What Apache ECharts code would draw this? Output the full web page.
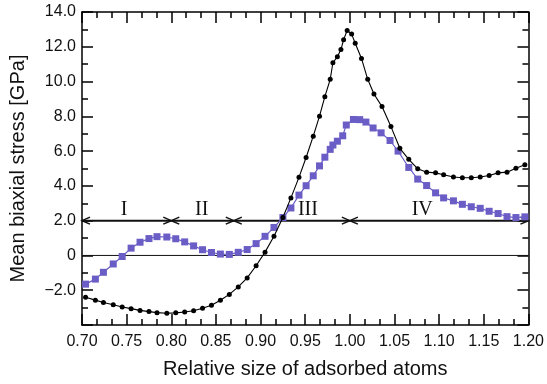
<!DOCTYPE html>
<html>
<head>
<meta charset="utf-8">
<script src="https://cdn.jsdelivr.net/npm/echarts@6/dist/echarts.min.js"></script>
<style>html,body{margin:0;padding:0;background:#fff}#c{width:547px;height:384px}</style>
</head>
<body>
<div id="c"></div>
<script>
// Black series (circles): [relative size, stress]
var blackX = [0.704,0.715,0.724,0.735,0.745,0.755,0.765,0.775,0.784,0.795,0.805,0.815,0.825,0.835,0.845,0.855,0.865,0.875,0.885,0.895,0.905,0.915,0.925,0.934,0.943,0.951,0.959,0.966,0.972,0.978,0.981,0.986,0.990,0.993,0.997,1.002,1.006,1.013,1.020,1.027,1.036,1.046,1.056,1.066,1.076,1.086,1.096,1.105,1.116,1.126,1.136,1.146,1.156,1.166,1.176,1.186,1.196];
var blackY = [-2.40,-2.57,-2.71,-2.84,-2.96,-3.06,-3.16,-3.23,-3.29,-3.32,-3.30,-3.25,-3.18,-3.04,-2.86,-2.58,-2.24,-1.81,-1.29,-0.59,0.19,1.10,2.18,3.31,4.49,5.63,6.86,8.01,9.13,10.13,11.08,11.42,11.84,12.41,12.94,12.73,12.20,11.33,10.13,9.28,8.56,7.41,6.16,5.53,4.98,4.79,4.75,4.64,4.51,4.47,4.47,4.51,4.60,4.75,4.79,5.02,5.21];
// Purple series (squares)
var purpleX = [0.704,0.715,0.724,0.735,0.745,0.755,0.765,0.775,0.784,0.795,0.805,0.815,0.825,0.835,0.845,0.855,0.865,0.875,0.885,0.895,0.905,0.915,0.925,0.934,0.943,0.951,0.959,0.966,0.972,0.978,0.981,0.986,0.992,0.996,1.004,1.011,1.018,1.026,1.035,1.045,1.054,1.066,1.076,1.086,1.096,1.105,1.116,1.126,1.136,1.146,1.156,1.166,1.176,1.186,1.196];
var purpleY = [-1.65,-1.36,-0.97,-0.49,-0.06,0.42,0.76,0.97,1.08,1.06,0.96,0.78,0.55,0.33,0.17,0.08,0.06,0.18,0.34,0.68,1.10,1.61,2.18,2.73,3.47,4.01,4.58,5.15,5.65,6.10,6.35,6.57,6.88,7.50,7.82,7.81,7.67,7.33,7.05,6.61,6.00,5.06,4.39,4.02,3.60,3.31,3.14,2.94,2.80,2.71,2.54,2.41,2.23,2.18,2.22];
// Region boundaries and labels
var regionBounds = [0.70, 0.80, 0.87, 1.00, 1.20];
var regionLevel = 2.0;
var regionNames = ['I','II','III','IV'];
var regionNameX = [0.747, 0.834, 0.953, 1.081];
var regionNameY = 2.62;
// Axis ticks
var xTicks = [0.70,0.75,0.80,0.85,0.90,0.95,1.00,1.05,1.10,1.15,1.20];
var yTicks = [-4,-2,0,2,4,6,8,10,12,14];

function pairs(xs, ys){ return xs.map(function(x,i){ return [x, ys[i]]; }); }

var chart = echarts.init(document.getElementById('c'), null, {renderer:'canvas'});
var axisCommon = {
  type: 'value',
  axisLine: {show:true, onZero:false, lineStyle:{color:'#000', width:1.5}},
  axisTick: {show:true, inside:true, length:11, lineStyle:{color:'#000', width:1.5}},
  minorTick: {show:true, length:6, lineStyle:{color:'#000', width:1.5}},
  splitLine: {show:false}
};
function xax(pos, labels){
  return Object.assign({}, axisCommon, {
    position: pos, min: xTicks[0], max: xTicks[xTicks.length-1], interval: 0.05,
    minorTick: Object.assign({}, axisCommon.minorTick, {splitNumber:3}),
    axisLabel: {show: labels, fontSize:16, color:'#111', margin:9, fontFamily:'Liberation Sans, Arial, sans-serif',
      formatter: function(v){ return v.toFixed(2); }},
    name: labels ? 'Relative size of adsorbed atoms' : '',
    nameLocation: 'middle', nameGap: 34,
    nameTextStyle: {fontSize:20, color:'#111', fontFamily:'Liberation Sans, Arial, sans-serif'}
  });
}
function yax(pos, labels){
  return Object.assign({}, axisCommon, {
    position: pos, min: yTicks[0], max: yTicks[yTicks.length-1], interval: 2,
    minorTick: Object.assign({}, axisCommon.minorTick, {splitNumber:2}),
    axisLabel: {show: labels, fontSize:16, color:'#111', margin:6, fontFamily:'Liberation Sans, Arial, sans-serif',
      formatter: function(v){
        if (v === yTicks[0]) return '';
        if (v === 0) return '0';
        return (v < 0 ? '\u2212' : '') + Math.abs(v).toFixed(1);
      }},
    name: labels ? 'Mean biaxial stress [GPa]' : '',
    nameLocation: 'middle', nameGap: 54,
    nameTextStyle: {fontSize:20, color:'#111', fontFamily:'Liberation Sans, Arial, sans-serif'}
  });
}

function renderRegions(params, api){
  var children = [];
  var p0 = api.coord([regionBounds[0], regionLevel]);
  var p1 = api.coord([regionBounds[regionBounds.length-1], regionLevel]);
  var st = {stroke:'#111', lineWidth:2, fill:null};
  children.push({type:'line', shape:{x1:p0[0], y1:p0[1], x2:p1[0], y2:p1[1]}, style:st});
  var L = 8, H = 3.5;
  var cs = {stroke:'#111', lineWidth:1.5, fill:null};
  regionBounds.forEach(function(b, i){
    var p = api.coord([b, regionLevel]);
    if (i > 0) {
      children.push({type:'polyline', shape:{points:[[p[0]-L,p[1]-H],[p[0],p[1]],[p[0]-L,p[1]+H]]}, style:cs});
    }
    if (i < regionBounds.length-1) {
      children.push({type:'polyline', shape:{points:[[p[0]+L,p[1]-H],[p[0],p[1]],[p[0]+L,p[1]+H]]}, style:cs});
    }
  });
  regionNames.forEach(function(n, i){
    var p = api.coord([regionNameX[i], regionNameY]);
    children.push({type:'text', x:p[0], y:p[1], style:{text:n, fill:'#111', fontSize:20,
      fontFamily:'Liberation Serif, DejaVu Serif, serif', align:'center', verticalAlign:'middle'}});
  });
  var z0 = api.coord([regionBounds[0], 0]);
  var z1 = api.coord([regionBounds[regionBounds.length-1], 0]);
  children.push({type:'line', shape:{x1:z0[0], y1:z0[1], x2:z1[0], y2:z1[1]}, style:{stroke:'#111', lineWidth:1}});
  return {type:'group', children:children};
}

chart.setOption({
  animation: false,
  backgroundColor: '#fff',
  grid: {left:77, right:18, top:12, bottom:56, containLabel:false},
  xAxis: [xax('bottom', true), xax('top', false)],
  yAxis: [yax('left', true), yax('right', false)],
  series: [
    {type:'custom', renderItem: renderRegions, data:[[regionBounds[0], regionLevel]], z:1, silent:true},
    {type:'line', data: pairs(purpleX, purpleY), symbol:'rect', symbolSize:7, showSymbol:true,
      lineStyle:{color:'#6a5ec6', width:1.2}, itemStyle:{color:'#6a5ec6'}, z:3},
    {type:'line', data: pairs(blackX, blackY), symbol:'circle', symbolSize:5, showSymbol:true,
      lineStyle:{color:'#000', width:1.1}, itemStyle:{color:'#000'}, z:4}
  ]
});
</script>
</body>
</html>
